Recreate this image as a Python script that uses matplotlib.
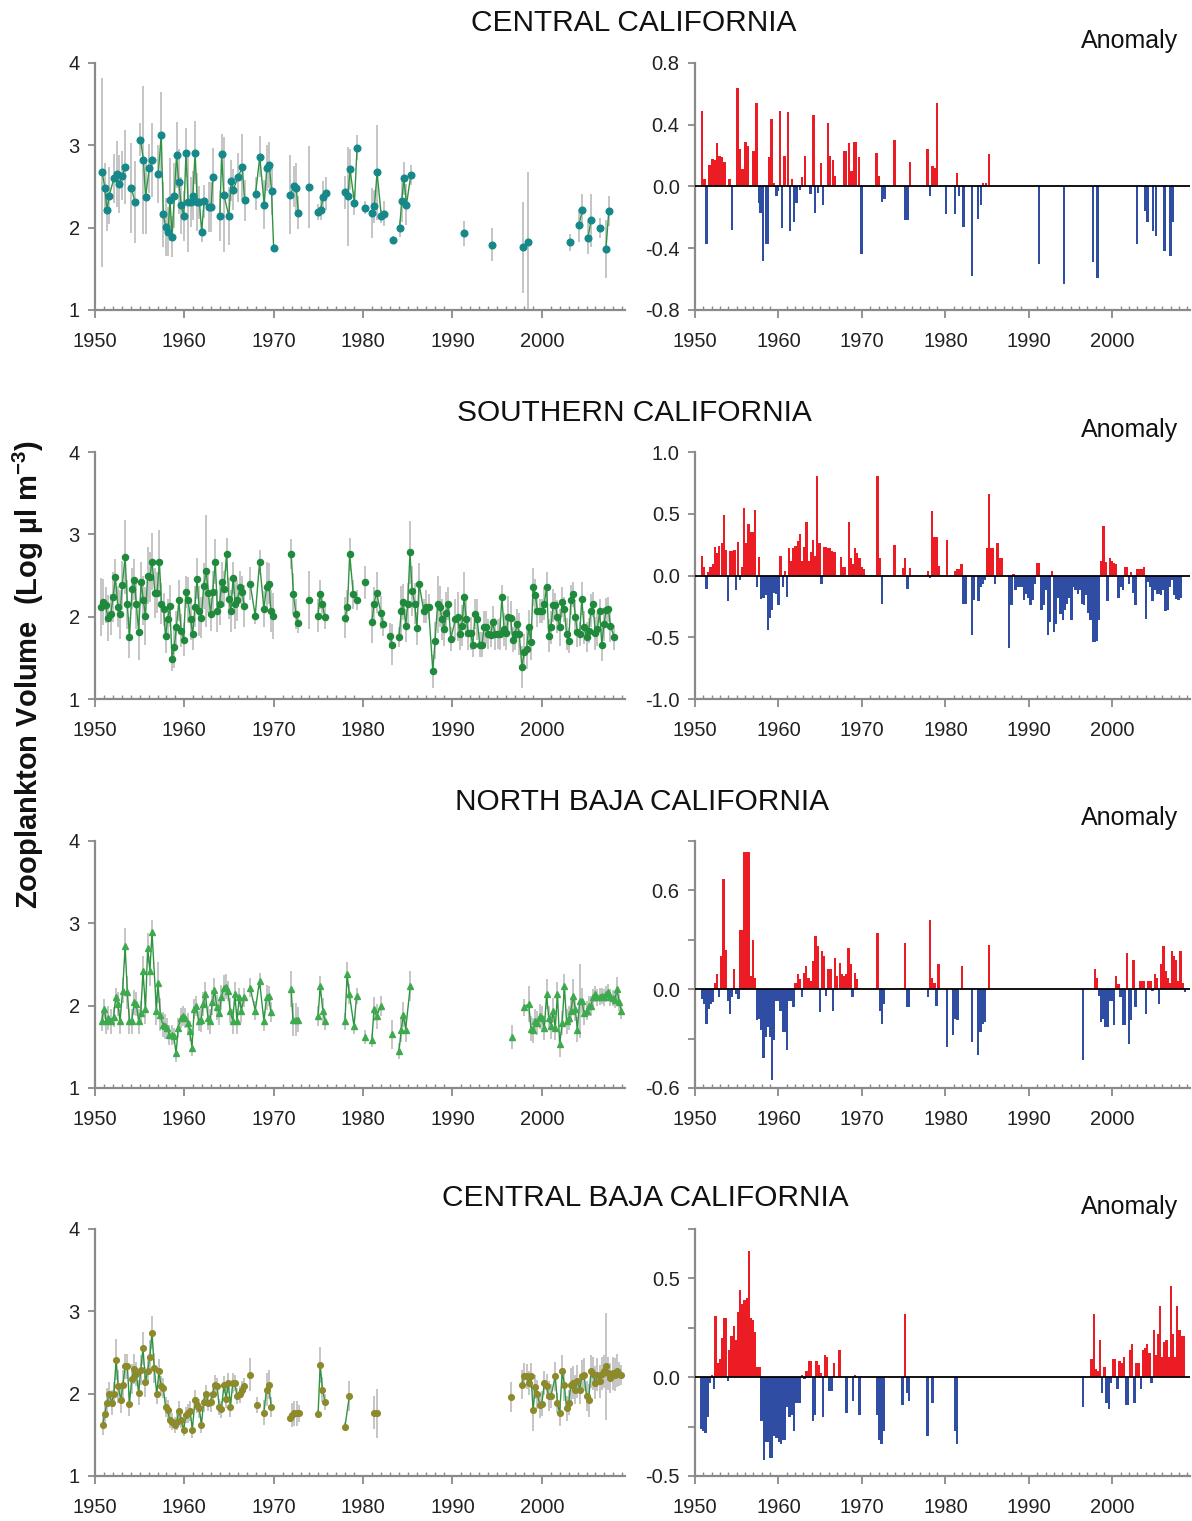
import numpy as np
import matplotlib
matplotlib.use("Agg")
import matplotlib.pyplot as plt
from matplotlib.ticker import MultipleLocator, FixedLocator

plt.rcParams['font.family'] = ['Liberation Sans', 'DejaVu Sans']
plt.rcParams['axes.unicode_minus'] = False
plt.rcParams['mathtext.default'] = 'regular'

titles = ['CENTRAL CALIFORNIA', 'SOUTHERN CALIFORNIA', 'NORTH BAJA CALIFORNIA', 'CENTRAL BAJA CALIFORNIA']

# ---- Central California ----
cc_years = [1950.81, 1951.10, 1951.34, 1951.59, 1952.12, 1952.44, 1952.69, 1953.05, 1953.38, 1954.07,
            1954.48, 1955.09, 1955.42, 1955.66, 1956.07, 1956.43, 1957.08, 1957.41, 1957.65, 1957.90,
            1958.18, 1958.39, 1958.63, 1958.88, 1959.12, 1959.36, 1959.65, 1959.93, 1960.18, 1960.42,
            1960.71, 1960.95, 1961.20, 1961.44, 1961.69, 1961.93, 1962.21, 1962.74, 1962.99, 1963.19,
            1963.97, 1964.17, 1964.41, 1964.98, 1965.23, 1965.47, 1966.00, 1966.49, 1966.73, 1967.96,
            1968.44, 1968.93, 1969.22, 1969.50, 1969.75, 1969.99, 1971.86, 1972.23, 1972.52, 1972.76,
            1973.98, 1975.00, 1975.24, 1975.53, 1975.81, 1978.01, 1978.30, 1978.54, 1979.03, 1979.32,
            1980.25, 1981.03, 1981.27, 1981.56, 1982.04, 1982.33, 1983.31, 1984.08, 1984.32, 1984.57,
            1984.85, 1985.34, 1991.33, 1994.38, 1997.88, 1998.45, 2003.18, 2004.15, 2004.52, 2005.17,
            2005.50, 2006.52, 2007.17, 2007.49]
cc_volume = [2.67, 2.48, 2.21, 2.39, 2.60, 2.65, 2.53, 2.63, 2.74, 2.48,
             2.31, 3.07, 2.82, 2.37, 2.72, 2.82, 2.65, 3.13, 2.16, 2.01,
             1.95, 2.34, 1.89, 2.39, 2.88, 2.56, 2.27, 2.14, 2.91, 2.31,
             2.31, 2.39, 2.91, 2.31, 2.31, 1.95, 2.32, 2.25, 2.25, 2.62,
             2.14, 2.89, 2.40, 2.14, 2.57, 2.46, 2.61, 2.74, 2.33, 2.41,
             2.86, 2.28, 2.72, 2.76, 2.45, 1.75, 2.40, 2.50, 2.48, 2.18,
             2.49, 2.19, 2.21, 2.37, 2.42, 2.43, 2.38, 2.71, 2.30, 2.97,
             2.24, 2.18, 2.26, 2.67, 2.14, 2.17, 1.85, 1.99, 2.32, 2.60,
             2.28, 2.64, 1.93, 1.79, 1.76, 1.83, 1.82, 2.03, 2.21, 1.88,
             2.09, 2.00, 1.74, 2.20]
cc_err = [1.15, 0.30, 0.25, 0.35, 0.30, 0.40, 0.35, 0.30, 0.45, 0.55,
          0.50, 0.20, 0.90, 0.45, 0.30, 0.45, 0.35, 0.52, 0.40, 0.35,
          0.30, 0.50, 0.25, 0.40, 0.40, 0.40, 0.35, 0.30, 0.30, 0.60,
          0.30, 0.30, 0.38, 0.35, 0.20, 0.12, 0.20, 0.30, 0.30, 0.35,
          0.30, 0.25, 0.70, 0.35, 0.25, 0.25, 0.30, 0.40, 0.25, 0.20,
          0.25, 0.30, 0.28, 0.28, 0.30, 0.05, 0.48, 0.25, 0.30, 0.20,
          0.50, 0.10, 0.12, 0.20, 0.20, 0.20, 0.60, 0.25, 0.15, 0.15,
          0.08, 0.30, 0.20, 0.58, 0.08, 0.15, 0.05, 0.10, 0.25, 0.20,
          0.25, 0.12, 0.15, 0.20, 0.55, 0.85, 0.10, 0.20, 0.20, 0.20,
          0.32, 0.12, 0.35, 0.18]
cc_anom_years = [1950.85, 1951.15, 1951.37, 1951.75, 1952.09, 1952.35, 1952.65, 1952.95, 1953.25, 1953.55,
                 1954.15, 1954.44, 1955.09, 1955.38, 1955.68, 1956.07, 1956.37, 1957.01, 1957.39, 1957.65,
                 1957.86, 1958.16, 1958.50, 1958.76, 1958.93, 1959.19, 1959.49, 1959.79, 1959.96, 1960.17,
                 1960.43, 1960.73, 1961.11, 1961.37, 1961.62, 1961.88, 1962.18, 1962.61, 1962.86, 1963.21,
                 1963.85, 1964.19, 1964.40, 1964.74, 1965.13, 1965.38, 1965.90, 1966.20, 1966.50, 1966.75,
                 1967.82, 1968.12, 1968.42, 1968.76, 1969.06, 1969.27, 1969.62, 1969.96, 1971.75, 1972.05,
                 1972.39, 1972.69, 1973.89, 1975.17, 1975.47, 1975.73, 1977.86, 1978.16, 1978.46, 1978.76,
                 1979.02, 1980.09, 1981.15, 1981.41, 1981.67, 1982.18, 1983.16, 1983.93, 1984.23, 1984.53,
                 1984.87, 1985.21, 1991.20, 1994.19, 1997.69, 1998.21, 2002.95, 2003.89, 2004.23, 2004.87,
                 2005.21, 2006.24, 2006.97, 2007.26]
cc_anom = [0.49, 0.05, -0.37, 0.14, 0.18, 0.17, 0.28, 0.20, 0.19, 0.16,
           0.05, -0.28, 0.64, 0.24, 0.11, 0.29, 0.26, 0.23, 0.54, -0.11,
           -0.17, -0.48, -0.37, -0.37, 0.19, 0.44, 0.02, -0.06, -0.03, 0.49,
           -0.27, 0.20, 0.48, -0.29, 0.05, -0.23, -0.11, -0.02, 0.06, 0.20,
           -0.05, 0.46, -0.17, -0.04, 0.15, -0.12, 0.41, 0.20, 0.17, 0.07,
           0.23, 0.23, 0.28, 0.10, 0.29, 0.29, 0.19, -0.44, 0.22, 0.07,
           -0.10, -0.08, 0.30, -0.22, -0.22, 0.16, 0.24, -0.06, 0.13, 0.12,
           0.54, -0.18, -0.18, 0.09, -0.06, -0.26, -0.58, -0.21, -0.12, 0.02,
           0.02, 0.21, -0.50, -0.63, -0.49, -0.59, -0.37, -0.16, -0.23, -0.29,
           -0.32, -0.42, -0.45, -0.23]

# ---- Southern California ----
sc_years = [1950.65, 1950.93, 1951.18, 1951.46, 1951.75, 1952.03, 1952.28, 1952.56, 1952.80, 1953.05,
            1953.37, 1953.62, 1953.86, 1954.15, 1954.39, 1954.63, 1954.88, 1955.16, 1955.41, 1955.65,
            1955.89, 1956.14, 1956.38, 1956.71, 1956.95, 1957.20, 1957.44, 1957.68, 1957.89, 1958.13,
            1958.37, 1958.62, 1958.86, 1959.11, 1959.39, 1959.63, 1959.92, 1960.16, 1960.41, 1960.69,
            1960.93, 1961.18, 1961.42, 1961.67, 1961.91, 1962.15, 1962.44, 1962.68, 1962.93, 1963.17,
            1963.46, 1963.70, 1963.94, 1964.19, 1964.43, 1964.72, 1964.96, 1965.20, 1965.45, 1965.69,
            1965.93, 1966.22, 1966.46, 1966.71, 1967.36, 1967.93, 1968.41, 1968.90, 1969.19, 1969.47,
            1969.67, 1969.96, 1971.95, 1972.20, 1972.48, 1972.72, 1973.94, 1974.96, 1975.16, 1975.45,
            1975.69, 1977.97, 1978.25, 1978.50, 1978.90, 1979.27, 1980.20, 1980.98, 1981.22, 1981.50,
            1981.99, 1982.24, 1983.01, 1983.25, 1984.02, 1984.27, 1984.51, 1984.76, 1985.00, 1985.24,
            1985.49, 1985.77, 1986.02, 1986.26, 1986.79, 1987.03, 1987.32, 1987.80, 1988.05, 1988.33,
            1988.58, 1988.82, 1989.07, 1989.31, 1989.55, 1989.80, 1990.33, 1990.57, 1990.81, 1991.06,
            1991.30, 1991.54, 1991.79, 1992.03, 1992.28, 1992.52, 1992.76, 1993.05, 1993.29, 1993.54,
            1993.78, 1994.02, 1994.27, 1994.51, 1994.76, 1995.04, 1995.28, 1995.53, 1995.77, 1996.02,
            1996.26, 1996.50, 1996.75, 1996.99, 1997.24, 1997.48, 1997.76, 1998.05, 1998.29, 1998.54,
            1998.78, 1999.02, 1999.27, 1999.51, 1999.76, 2000.00, 2000.28, 2000.53, 2000.77, 2001.02,
            2001.26, 2001.50, 2001.75, 2001.99, 2002.28, 2002.52, 2002.76, 2003.01, 2003.25, 2003.50,
            2003.74, 2003.98, 2004.23, 2004.47, 2004.72, 2005.00, 2005.24, 2005.49, 2005.73, 2005.98,
            2006.22, 2006.46, 2006.71, 2006.95, 2007.20, 2007.44, 2007.68, 2008.09]
sc_volume = [2.12, 2.18, 2.14, 1.98, 2.03, 2.24, 2.48, 2.12, 2.03, 2.38,
             2.73, 2.15, 1.75, 2.34, 2.45, 2.15, 1.82, 2.42, 2.20, 2.01,
             2.50, 2.48, 2.67, 2.29, 2.29, 2.67, 2.16, 2.09, 1.76, 1.97,
             2.13, 1.49, 1.63, 1.87, 2.20, 1.83, 1.72, 2.30, 2.20, 1.97,
             1.79, 2.12, 2.46, 2.07, 1.99, 2.37, 2.55, 2.29, 2.03, 2.30,
             2.67, 2.07, 2.15, 2.42, 2.34, 2.76, 2.22, 2.07, 2.47, 2.15,
             2.20, 2.36, 2.30, 2.13, 2.40, 2.01, 2.66, 2.09, 2.36, 2.40,
             2.07, 2.01, 2.76, 2.28, 2.03, 1.92, 2.20, 2.01, 2.27, 2.15,
             2.00, 1.99, 2.12, 2.76, 2.27, 2.20, 2.42, 1.93, 2.16, 2.29,
             2.05, 1.91, 1.77, 1.66, 1.75, 2.07, 2.18, 1.89, 2.16, 2.78,
             2.31, 2.16, 1.86, 2.40, 2.07, 2.12, 2.12, 1.34, 1.71, 2.15,
             2.12, 1.97, 1.85, 2.05, 2.16, 1.73, 1.97, 2.00, 1.79, 1.89,
             2.24, 1.97, 1.80, 1.80, 1.66, 2.03, 1.97, 1.66, 1.66, 1.87,
             1.87, 1.79, 1.78, 1.93, 1.79, 1.79, 1.79, 2.24, 1.85, 1.80,
             2.00, 1.99, 1.72, 1.79, 1.91, 1.79, 1.39, 1.57, 1.61, 1.88,
             1.69, 2.36, 2.26, 2.07, 2.07, 2.07, 2.16, 2.36, 1.77, 1.87,
             2.14, 2.14, 2.00, 1.87, 2.18, 2.09, 1.79, 1.71, 2.20, 2.27,
             2.00, 1.81, 1.79, 2.22, 1.87, 1.75, 1.83, 2.07, 2.15, 1.80,
             1.85, 2.07, 1.66, 1.91, 2.08, 2.09, 1.89, 1.75]
sc_err = [0.35, 0.28, 0.22, 0.28, 0.25, 0.30, 0.22, 0.25, 0.30, 0.30,
          0.45, 0.30, 0.25, 0.25, 0.25, 0.30, 0.35, 0.25, 0.30, 0.35,
          0.35, 0.30, 0.35, 0.30, 0.25, 0.38, 0.25, 0.20, 0.20, 0.25,
          0.25, 0.15, 0.25, 0.20, 0.25, 0.20, 0.20, 0.20, 0.28, 0.25,
          0.20, 0.25, 0.25, 0.30, 0.25, 0.28, 0.68, 0.25, 0.20, 0.25,
          0.27, 0.25, 0.25, 0.25, 0.22, 0.20, 0.25, 0.25, 0.20, 0.30,
          0.25, 0.20, 0.20, 0.25, 0.20, 0.10, 0.15, 0.22, 0.30, 0.25,
          0.25, 0.28, 0.18, 0.25, 0.18, 0.12, 0.35, 0.20, 0.18, 0.12,
          0.15, 0.25, 0.20, 0.20, 0.18, 0.12, 0.20, 0.25, 0.20, 0.25,
          0.20, 0.15, 0.15, 0.25, 0.12, 0.30, 0.22, 0.20, 0.25, 0.38,
          0.30, 0.25, 0.20, 0.25, 0.15, 0.20, 0.15, 0.20, 0.22, 0.35,
          0.25, 0.25, 0.20, 0.25, 0.20, 0.15, 0.25, 0.30, 0.20, 0.25,
          0.30, 0.22, 0.20, 0.20, 0.15, 0.18, 0.25, 0.15, 0.15, 0.20,
          0.20, 0.18, 0.15, 0.20, 0.20, 0.18, 0.20, 0.15, 0.20, 0.20,
          0.25, 0.20, 0.15, 0.20, 0.18, 0.25, 0.25, 0.22, 0.25, 0.20,
          0.22, 0.23, 0.20, 0.20, 0.15, 0.15, 0.20, 0.18, 0.20, 0.20,
          0.20, 0.15, 0.20, 0.22, 0.18, 0.15, 0.20, 0.15, 0.18, 0.15,
          0.20, 0.18, 0.15, 0.20, 0.20, 0.18, 0.15, 0.20, 0.15, 0.20,
          0.20, 0.15, 0.20, 0.20, 0.15, 0.15, 0.20, 0.15]
sc_anom_years = [1950.85, 1951.11, 1951.37, 1951.62, 1951.88, 1952.14, 1952.39, 1952.65, 1952.91, 1953.21,
                 1953.46, 1953.72, 1953.97, 1954.23, 1954.49, 1954.74, 1954.91, 1955.17, 1955.43, 1955.64,
                 1955.90, 1956.15, 1956.41, 1956.67, 1956.92, 1957.18, 1957.44, 1957.69, 1957.95, 1958.21,
                 1958.46, 1958.72, 1958.97, 1959.23, 1959.49, 1959.74, 1960.00, 1960.26, 1960.51, 1960.77,
                 1961.03, 1961.28, 1961.54, 1961.79, 1962.05, 1962.31, 1962.56, 1962.82, 1963.12, 1963.38,
                 1963.63, 1963.89, 1964.15, 1964.40, 1964.66, 1964.91, 1965.17, 1965.43, 1965.68, 1965.94,
                 1966.20, 1966.45, 1966.71, 1967.48, 1967.74, 1967.99, 1968.46, 1968.68, 1968.93, 1969.19,
                 1969.44, 1969.70, 1969.96, 1970.21, 1971.88, 1972.18, 1972.44, 1973.89, 1974.96, 1975.17,
                 1975.47, 1975.73, 1977.91, 1978.16, 1978.42, 1978.68, 1978.93, 1979.19, 1980.17, 1981.15,
                 1981.41, 1981.67, 1981.92, 1982.18, 1982.44, 1983.21, 1983.46, 1983.97, 1984.23, 1984.49,
                 1984.74, 1984.96, 1985.21, 1985.47, 1985.73, 1985.98, 1986.24, 1986.50, 1986.75, 1987.65,
                 1987.91, 1988.16, 1988.42, 1988.68, 1988.93, 1989.19, 1989.44, 1989.70, 1989.96, 1990.21,
                 1990.47, 1990.73, 1990.98, 1991.24, 1991.50, 1991.75, 1992.01, 1992.26, 1992.52, 1992.78,
                 1993.03, 1993.29, 1993.55, 1993.80, 1994.06, 1994.32, 1994.57, 1994.83, 1995.09, 1995.34,
                 1995.60, 1995.85, 1996.11, 1996.37, 1996.62, 1996.88, 1997.14, 1997.39, 1997.65, 1997.91,
                 1998.16, 1998.42, 1998.68, 1998.93, 1999.19, 1999.44, 1999.70, 1999.96, 2000.21, 2000.47,
                 2000.73, 2000.98, 2001.24, 2001.50, 2001.75, 2002.01, 2002.26, 2002.52, 2002.78, 2003.03,
                 2003.29, 2003.55, 2003.80, 2004.06, 2004.32, 2004.57, 2004.83, 2005.09, 2005.34, 2005.60,
                 2005.85, 2006.11, 2006.37, 2006.62, 2006.88, 2007.14, 2007.39, 2007.65, 2007.91, 2008.16]
sc_anom = [0.16, 0.07, -0.11, 0.03, 0.07, 0.09, 0.23, 0.18, 0.24, 0.26,
           0.49, 0.21, -0.21, 0.20, 0.20, 0.21, -0.12, 0.27, -0.04, 0.07,
           0.55, 0.26, 0.42, 0.35, 0.35, 0.53, -0.09, 0.15, -0.19, -0.18,
           -0.16, -0.44, -0.34, -0.28, -0.14, -0.15, -0.24, 0.16, -0.09, 0.04,
           -0.17, 0.22, 0.12, 0.22, 0.24, 0.28, 0.34, 0.12, 0.23, 0.43,
           0.12, 0.19, 0.29, 0.16, 0.81, 0.26, -0.07, 0.23, 0.23, 0.22,
           0.22, 0.20, 0.19, 0.15, 0.07, 0.07, 0.43, 0.14, 0.09, 0.22,
           0.18, 0.14, 0.07, 0.05, 0.81, 0.14, -0.23, 0.25, 0.06, 0.14,
           -0.11, 0.06, 0.04, -0.02, 0.52, 0.31, 0.31, 0.08, 0.29, 0.04,
           0.05, 0.05, 0.09, -0.23, -0.23, -0.48, -0.20, -0.21, -0.09, -0.07,
           -0.04, 0.22, 0.66, 0.22, 0.22, -0.07, 0.26, 0.14, 0.14, -0.59,
           -0.24, 0.01, -0.12, -0.09, -0.09, -0.09, -0.20, -0.15, -0.18, -0.24,
           -0.20, -0.07, 0.10, 0.10, -0.28, -0.24, -0.12, -0.48, -0.38, 0.04,
           -0.46, -0.39, -0.18, -0.31, -0.36, -0.28, -0.23, -0.18, -0.36, -0.09,
           -0.12, -0.15, -0.12, -0.23, -0.24, -0.16, -0.30, -0.36, -0.54, -0.54,
           -0.53, -0.36, 0.12, 0.40, 0.11, -0.21, 0.14, 0.12, 0.10, 0.09,
           -0.18, -0.09, -0.12, 0.07, 0.07, -0.07, 0.03, -0.14, -0.24, 0.05,
           0.05, 0.05, 0.07, -0.35, -0.05, -0.09, -0.21, -0.12, -0.15, -0.15,
           -0.16, -0.12, -0.29, -0.28, -0.09, -0.04, -0.16, -0.19, -0.20, -0.18]

# ---- North Baja California ----
nb_years = [1950.73, 1951.02, 1951.26, 1951.50, 1951.79, 1952.07, 1952.32, 1952.56, 1952.80, 1953.09,
            1953.37, 1953.62, 1953.86, 1954.11, 1954.39, 1954.63, 1954.88, 1955.12, 1955.37, 1955.65,
            1955.89, 1956.14, 1956.38, 1956.87, 1957.03, 1957.32, 1957.56, 1957.80, 1958.09, 1958.33,
            1958.58, 1958.82, 1959.07, 1959.31, 1959.59, 1959.84, 1960.08, 1960.37, 1960.61, 1960.85,
            1961.10, 1961.34, 1961.59, 1961.87, 1962.11, 1962.36, 1962.64, 1962.89, 1963.13, 1963.37,
            1963.62, 1963.90, 1964.15, 1964.39, 1964.63, 1964.88, 1965.12, 1965.41, 1965.65, 1965.89,
            1966.14, 1966.38, 1966.67, 1967.36, 1967.93, 1968.41, 1968.90, 1969.19, 1969.43, 1969.67,
            1971.95, 1972.15, 1972.48, 1972.72, 1974.96, 1975.20, 1975.49, 1975.73, 1977.97, 1978.21,
            1978.46, 1978.98, 1979.27, 1980.20, 1980.98, 1981.22, 1981.50, 1981.99, 1983.21, 1984.02,
            1984.27, 1984.51, 1984.76, 1985.28, 1996.63, 1998.01, 1998.54, 1998.78, 1999.02, 1999.27,
            1999.51, 1999.76, 2000.00, 2000.28, 2000.53, 2000.77, 2001.02, 2001.26, 2001.50, 2001.75,
            2001.99, 2002.28, 2002.52, 2002.76, 2003.01, 2003.25, 2003.50, 2003.74, 2003.98, 2004.23,
            2004.47, 2004.72, 2005.00, 2005.24, 2005.49, 2005.73, 2005.98, 2006.22, 2006.46, 2006.71,
            2006.95, 2007.20, 2007.44, 2007.68, 2007.93, 2008.17, 2008.41, 2008.66, 2008.90]
nb_volume = [1.81, 1.96, 1.81, 1.85, 1.81, 1.86, 2.10, 2.02, 1.81, 2.18,
             2.72, 2.16, 1.81, 1.81, 2.04, 2.02, 1.81, 1.91, 2.42, 1.96,
             2.70, 2.42, 2.89, 1.94, 2.28, 1.89, 1.77, 1.75, 1.73, 1.64,
             1.64, 1.63, 1.42, 1.73, 1.85, 1.87, 1.85, 1.79, 1.69, 1.49,
             1.96, 2.00, 1.81, 1.83, 2.02, 2.14, 1.85, 1.81, 2.04, 2.19,
             1.98, 1.91, 2.10, 2.22, 2.23, 2.18, 1.94, 1.81, 2.14, 1.81,
             2.10, 1.94, 2.10, 2.22, 1.94, 2.30, 1.81, 2.10, 2.12, 1.92,
             2.20, 1.83, 1.83, 1.83, 1.87, 2.24, 1.94, 1.81, 1.81, 2.38,
             2.14, 1.75, 2.12, 1.62, 1.58, 1.96, 1.87, 2.00, 1.65, 1.45,
             1.71, 1.89, 1.71, 2.24, 1.62, 1.98, 2.02, 1.72, 1.70, 1.81,
             1.79, 1.87, 1.85, 1.73, 2.14, 1.85, 1.75, 1.94, 1.73, 2.14,
             1.53, 1.79, 2.24, 1.81, 1.85, 1.94, 2.12, 1.96, 1.71, 2.06,
             2.06, 1.91, 1.94, 2.00, 2.00, 2.10, 2.14, 2.10, 2.11, 2.12,
             2.10, 2.14, 2.16, 2.10, 2.09, 2.07, 2.20, 2.04, 1.94]
nb_err = [0.12, 0.12, 0.15, 0.15, 0.15, 0.12, 0.12, 0.15, 0.15, 0.15,
          0.22, 0.20, 0.15, 0.15, 0.15, 0.15, 0.15, 0.15, 0.18, 0.18,
          0.18, 0.18, 0.15, 0.18, 0.25, 0.20, 0.15, 0.15, 0.12, 0.12,
          0.12, 0.10, 0.10, 0.12, 0.12, 0.12, 0.12, 0.12, 0.12, 0.10,
          0.12, 0.12, 0.12, 0.15, 0.15, 0.15, 0.15, 0.15, 0.15, 0.15,
          0.15, 0.15, 0.15, 0.15, 0.15, 0.12, 0.15, 0.15, 0.15, 0.15,
          0.12, 0.15, 0.12, 0.12, 0.12, 0.10, 0.12, 0.15, 0.12, 0.12,
          0.22, 0.20, 0.20, 0.15, 0.12, 0.12, 0.15, 0.10, 0.10, 0.15,
          0.12, 0.10, 0.10, 0.08, 0.08, 0.15, 0.15, 0.12, 0.18, 0.10,
          0.15, 0.15, 0.15, 0.18, 0.15, 0.10, 0.22, 0.15, 0.15, 0.15,
          0.15, 0.15, 0.15, 0.15, 0.18, 0.15, 0.15, 0.15, 0.15, 0.15,
          0.15, 0.15, 0.15, 0.15, 0.15, 0.15, 0.20, 0.15, 0.15, 0.45,
          0.15, 0.15, 0.12, 0.12, 0.12, 0.10, 0.10, 0.10, 0.10, 0.10,
          0.10, 0.10, 0.10, 0.10, 0.10, 0.10, 0.15, 0.10, 0.10]
nb_anom_years = [1950.85, 1951.11, 1951.37, 1951.62, 1951.88, 1952.14, 1952.39, 1952.65, 1952.91, 1953.16,
                 1953.42, 1953.68, 1953.93, 1954.19, 1954.44, 1954.70, 1954.96, 1955.21, 1955.38, 1955.64,
                 1955.90, 1956.15, 1956.41, 1956.67, 1956.92, 1957.18, 1957.44, 1957.69, 1957.95, 1958.21,
                 1958.46, 1958.72, 1958.97, 1959.23, 1959.49, 1959.74, 1960.00, 1960.26, 1960.51, 1960.77,
                 1961.03, 1961.28, 1961.54, 1961.79, 1962.05, 1962.31, 1962.56, 1962.82, 1963.08, 1963.33,
                 1963.59, 1963.85, 1964.19, 1964.44, 1964.70, 1964.96, 1965.21, 1965.47, 1965.73, 1965.98,
                 1966.24, 1966.50, 1966.75, 1967.01, 1967.35, 1967.61, 1967.86, 1968.12, 1968.38, 1968.63,
                 1968.89, 1969.15, 1969.40, 1969.66, 1971.88, 1972.14, 1972.39, 1972.65, 1974.87, 1975.17,
                 1975.43, 1975.68, 1977.91, 1978.16, 1978.42, 1978.68, 1978.93, 1979.19, 1980.17, 1980.94,
                 1981.20, 1981.45, 1981.97, 1983.16, 1983.93, 1984.19, 1984.44, 1984.74, 1985.21, 1996.45,
                 1997.91, 1998.16, 1998.42, 1998.68, 1998.93, 1999.19, 1999.44, 1999.70, 1999.96, 2000.21,
                 2000.47, 2000.73, 2000.98, 2001.24, 2001.50, 2001.75, 2002.01, 2002.26, 2002.52, 2002.78,
                 2003.03, 2003.29, 2003.55, 2003.80, 2004.06, 2004.32, 2004.57, 2004.83, 2005.09, 2005.34,
                 2005.60, 2005.85, 2006.11, 2006.37, 2006.62, 2006.88, 2007.14, 2007.39, 2007.65, 2007.91,
                 2008.16, 2008.42, 2008.68]
nb_anom = [-0.06, -0.09, -0.21, -0.12, -0.09, -0.08, 0.04, 0.09, -0.05, 0.20,
           0.67, 0.24, -0.07, -0.15, -0.05, 0.12, -0.03, -0.06, 0.36, 0.36,
           0.83, 0.83, 0.83, 0.08, 0.30, 0.07, -0.19, -0.18, -0.25, -0.42,
           -0.29, -0.23, -0.29, -0.55, -0.31, -0.07, -0.07, -0.13, -0.26, -0.26,
           -0.37, -0.07, -0.07, -0.11, 0.04, 0.09, 0.06, -0.05, 0.10, 0.14,
           0.07, 0.05, 0.17, 0.32, 0.26, -0.14, 0.23, 0.20, -0.04, 0.12,
           0.12, -0.13, 0.19, 0.08, 0.16, 0.09, 0.08, 0.09, 0.25, 0.15,
           -0.05, 0.10, 0.06, 0.01, 0.34, -0.13, -0.21, -0.09, 0.01, 0.28,
           -0.11, -0.11, -0.05, 0.42, 0.07, 0.04, -0.10, 0.15, -0.35, -0.28,
           -0.18, -0.19, 0.14, -0.32, -0.40, -0.26, -0.21, -0.20, 0.27, -0.43,
           0.12, 0.07, -0.04, -0.20, -0.18, -0.23, -0.23, -0.07, -0.07, -0.22,
           0.08, 0.03, -0.05, -0.22, -0.22, 0.22, -0.33, -0.19, 0.18, -0.11,
           0.01, 0.05, 0.05, 0.05, -0.15, 0.05, 0.05, -0.01, 0.09, 0.07,
           -0.09, 0.15, 0.26, 0.11, 0.07, 0.04, 0.23, 0.20, 0.18, 0.05,
           0.23, 0.04, -0.02]

# ---- Central Baja California ----
cb_years = [1950.85, 1951.10, 1951.34, 1951.59, 1951.87, 1952.11, 1952.36, 1952.60, 1952.89, 1953.13,
            1953.37, 1953.62, 1953.86, 1954.11, 1954.39, 1954.63, 1954.88, 1955.12, 1955.37, 1955.65,
            1955.89, 1956.14, 1956.38, 1956.63, 1956.91, 1957.15, 1957.40, 1957.64, 1957.89, 1958.13,
            1958.37, 1958.62, 1958.90, 1959.15, 1959.39, 1959.63, 1959.92, 1960.16, 1960.41, 1960.65,
            1960.89, 1961.18, 1961.42, 1961.67, 1961.91, 1962.15, 1962.40, 1962.68, 1962.93, 1963.17,
            1963.41, 1963.66, 1963.90, 1964.15, 1964.43, 1964.67, 1964.92, 1965.16, 1965.41, 1965.65,
            1965.89, 1966.18, 1966.42, 1966.67, 1967.36, 1968.17, 1968.90, 1969.19, 1969.43, 1969.72,
            1971.83, 1972.07, 1972.32, 1972.56, 1972.80, 1974.96, 1975.20, 1975.45, 1975.73, 1977.97,
            1978.46, 1981.22, 1981.50, 1996.59, 1997.76, 1998.01, 1998.29, 1998.54, 1998.78, 1999.02,
            1999.27, 1999.51, 1999.76, 2000.00, 2000.28, 2000.53, 2000.77, 2001.02, 2001.50, 2001.75,
            2001.99, 2002.28, 2002.52, 2002.76, 2003.01, 2003.25, 2003.50, 2003.74, 2003.98, 2004.23,
            2004.47, 2004.72, 2005.00, 2005.24, 2005.49, 2005.73, 2005.98, 2006.22, 2006.46, 2006.71,
            2006.95, 2007.20, 2007.44, 2007.68, 2007.93, 2008.17, 2008.41, 2008.66, 2008.90]
cb_volume = [1.62, 1.75, 1.89, 1.99, 1.89, 1.99, 2.41, 2.09, 1.92, 2.11,
             2.33, 2.33, 1.88, 2.18, 2.30, 2.24, 2.01, 2.29, 2.55, 2.14,
             2.28, 2.45, 2.74, 2.31, 1.99, 2.27, 2.09, 2.07, 1.84, 1.80,
             1.68, 1.66, 1.62, 1.66, 1.79, 1.68, 1.56, 1.74, 1.76, 1.79,
             1.56, 1.92, 1.86, 1.82, 1.62, 1.90, 1.99, 1.89, 1.90, 2.00,
             2.11, 2.09, 1.84, 1.81, 2.11, 1.94, 2.13, 1.84, 2.13, 2.13,
             1.97, 1.99, 2.05, 2.09, 2.23, 1.86, 1.77, 2.05, 2.11, 1.84,
             1.70, 1.74, 1.76, 1.76, 1.76, 1.75, 2.35, 2.05, 1.90, 1.60,
             1.97, 1.77, 1.76, 1.96, 2.11, 2.22, 2.21, 2.13, 2.22, 1.80,
             2.08, 1.99, 1.86, 1.88, 2.13, 2.09, 1.97, 1.97, 2.21, 1.89,
             1.76, 2.27, 2.11, 1.82, 1.89, 2.11, 2.13, 2.05, 2.15, 2.05,
             2.21, 2.23, 1.97, 1.92, 2.27, 2.24, 2.13, 2.23, 2.15, 2.24,
             2.27, 2.33, 2.25, 2.19, 2.25, 2.23, 2.28, 2.24, 2.23]
cb_err = [0.12, 0.15, 0.18, 0.15, 0.15, 0.15, 0.25, 0.20, 0.15, 0.18,
          0.15, 0.15, 0.15, 0.18, 0.18, 0.15, 0.15, 0.18, 0.20, 0.18,
          0.15, 0.20, 0.20, 0.18, 0.12, 0.15, 0.12, 0.12, 0.12, 0.12,
          0.10, 0.10, 0.10, 0.10, 0.12, 0.10, 0.08, 0.10, 0.12, 0.12,
          0.10, 0.12, 0.10, 0.12, 0.10, 0.12, 0.12, 0.10, 0.12, 0.12,
          0.12, 0.10, 0.10, 0.10, 0.10, 0.12, 0.12, 0.12, 0.12, 0.10,
          0.10, 0.10, 0.10, 0.10, 0.20, 0.10, 0.15, 0.20, 0.18, 0.12,
          0.05, 0.15, 0.15, 0.15, 0.10, 0.05, 0.22, 0.15, 0.10, 0.05,
          0.18, 0.20, 0.30, 0.18, 0.18, 0.15, 0.15, 0.15, 0.15, 0.25,
          0.15, 0.18, 0.15, 0.15, 0.15, 0.15, 0.18, 0.15, 0.18, 0.12,
          0.15, 0.20, 0.20, 0.15, 0.15, 0.20, 0.20, 0.18, 0.20, 0.18,
          0.20, 0.20, 0.18, 0.20, 0.20, 0.20, 0.20, 0.20, 0.20, 0.20,
          0.20, 0.65, 0.20, 0.18, 0.20, 0.20, 0.20, 0.15, 0.12]
cb_anom_years = [1950.77, 1951.03, 1951.28, 1951.54, 1951.79, 1952.05, 1952.31, 1952.48, 1952.74, 1952.99,
                 1953.25, 1953.50, 1953.76, 1953.97, 1954.15, 1954.40, 1954.66, 1954.91, 1955.17, 1955.43,
                 1955.68, 1955.94, 1956.20, 1956.45, 1956.71, 1956.97, 1957.22, 1957.48, 1957.74, 1957.99,
                 1958.25, 1958.50, 1958.76, 1959.02, 1959.27, 1959.53, 1959.79, 1960.04, 1960.30, 1960.56,
                 1960.81, 1961.07, 1961.32, 1961.58, 1961.84, 1962.09, 1962.35, 1962.61, 1962.86, 1963.12,
                 1963.38, 1963.63, 1963.89, 1964.15, 1964.40, 1964.57, 1964.83, 1965.09, 1965.34, 1965.60,
                 1965.85, 1966.11, 1966.37, 1966.62, 1967.31, 1968.16, 1968.93, 1969.19, 1969.70, 1971.84,
                 1972.09, 1972.35, 1972.61, 1974.87, 1975.13, 1975.38, 1975.64, 1977.86, 1978.46, 1981.15,
                 1981.41, 1996.45, 1997.52, 1997.78, 1998.03, 1998.29, 1998.55, 1998.80, 1999.06, 1999.32,
                 1999.57, 1999.83, 2000.09, 2000.34, 2000.60, 2000.85, 2001.11, 2001.37, 2001.62, 2001.88,
                 2002.14, 2002.39, 2002.65, 2002.91, 2003.16, 2003.42, 2003.68, 2003.93, 2004.19, 2004.44,
                 2004.70, 2004.96, 2005.21, 2005.47, 2005.73, 2005.98, 2006.24, 2006.50, 2006.75, 2007.01,
                 2007.26, 2007.52, 2007.78, 2008.03, 2008.29, 2008.55]
cb_anom = [-0.26, -0.27, -0.28, -0.20, -0.03, 0.01, -0.06, 0.31, 0.07, 0.09,
           0.20, 0.30, 0.30, -0.02, 0.14, 0.21, 0.26, 0.19, 0.33, 0.44,
           0.37, 0.39, 0.40, 0.64, 0.30, 0.29, 0.23, 0.05, 0.05, -0.22,
           -0.42, -0.33, -0.33, -0.41, -0.41, -0.30, -0.31, -0.33, -0.34, -0.32,
           -0.32, -0.15, -0.20, -0.19, -0.27, -0.13, -0.13, -0.13, 0.01, -0.01,
           0.03, 0.08, 0.08, -0.22, -0.19, 0.08, 0.06, 0.02, -0.20, 0.11,
           0.10, -0.07, -0.07, 0.07, 0.14, -0.18, -0.12, 0.01, -0.19, -0.19,
           -0.32, -0.34, -0.27, -0.14, 0.32, -0.08, -0.12, -0.30, -0.13, -0.27,
           -0.34, -0.15, 0.09, 0.32, 0.04, 0.03, 0.19, -0.08, 0.05, -0.13,
           -0.16, -0.03, 0.09, 0.09, -0.06, 0.08, 0.07, 0.10, -0.14, -0.14,
           0.14, 0.17, -0.13, 0.07, 0.07, -0.06, 0.14, 0.15, 0.17, 0.12,
           -0.03, 0.24, 0.11, 0.22, 0.36, 0.10, 0.18, 0.19, 0.10, 0.46,
           0.22, 0.10, 0.36, 0.24, 0.21, 0.21]

anom_limits = [(-0.8, 0.8), (-1.0, 1.0), (-0.6, 0.9), (-0.5, 0.75)]
anom_ticks = [[-0.8, -0.4, 0.0, 0.4, 0.8], [-1.0, -0.5, 0.0, 0.5, 1.0],
              [-0.6, -0.3, 0.0, 0.3, 0.6, 0.9], [-0.5, -0.25, 0.0, 0.25, 0.5, 0.75]]
anom_ticklabels = [['-0.8', '-0.4', '0.0', '0.4', '0.8'], ['-1.0', '-0.5', '0.0', '0.5', '1.0'],
                   ['-0.6', '', '0.0', '', '0.6', ''], ['-0.5', '', '0.0', '', '0.5', '']]

series = [(cc_years, cc_volume, cc_err, cc_anom_years, cc_anom),
          (sc_years, sc_volume, sc_err, sc_anom_years, sc_anom),
          (nb_years, nb_volume, nb_err, nb_anom_years, nb_anom),
          (cb_years, cb_volume, cb_err, cb_anom_years, cb_anom)]
markers = [('o', '#17888a', 4.8), ('o', '#1f8a3c', 4.4), ('^', '#3dab4d', 4.8), ('o', '#8d8a2c', 4.1)]
line_green = '#2f9442'
spine_gray = '#8a8a8a'
red = '#ec1c24'
blue = '#2f4ea3'


def broken(x, y, gap=0.6):
    x = np.asarray(x, float)
    y = np.asarray(y, float)
    idx = np.where(np.diff(x) > gap)[0] + 1
    return np.insert(x, idx, np.nan), np.insert(y, idx, np.nan)


def style_axis(ax):
    for s in ['top', 'right']:
        ax.spines[s].set_visible(False)
    for s in ['left', 'bottom']:
        ax.spines[s].set_color(spine_gray)
        ax.spines[s].set_linewidth(1.6)
    ax.set_xlim(1950, 2009.3)
    ax.xaxis.set_major_locator(MultipleLocator(10))
    ax.xaxis.set_minor_locator(MultipleLocator(1))
    ax.tick_params(axis='x', which='major', direction='out', length=6, width=1.3,
                   color=spine_gray, labelsize=14.5, pad=10, labelcolor='#222222')
    ax.tick_params(axis='x', which='minor', direction='in', length=3, width=1.0, color=spine_gray)
    ax.tick_params(axis='y', which='major', direction='out', length=5, width=1.3,
                   color=spine_gray, labelsize=14.5, pad=6, labelcolor='#222222')


fig = plt.figure(figsize=(11.92, 15.21), dpi=100)
bottoms = [0.7962, 0.5404, 0.2847, 0.0296]
height = 0.1624
title_pos = [(634, 23), (634, 413), (642, 802), (645, 1198)]
anom_pos = [41, 430, 818, 1207]

for i, (yrs, vol, err, ayrs, anom) in enumerate(series):
    axl = fig.add_axes([0.0797, bottoms[i], 0.4446, height])
    axl.errorbar(yrs, vol, yerr=err, fmt='none', ecolor='#bbbbbb', elinewidth=1.2, zorder=1)
    bx, by = broken(yrs, vol)
    axl.plot(bx, by, color=line_green, lw=1.0, zorder=2)
    mk, mc, ms = markers[i]
    axl.plot(yrs, vol, ls='none', marker=mk, color=mc, ms=ms, mec=mc, zorder=3)
    axl.set_ylim(1, 4)
    axl.set_yticks([1, 2, 3, 4])
    style_axis(axl)

    axr = fig.add_axes([0.583, bottoms[i], 0.4153, height])
    a = np.asarray(anom)
    colors = np.where(a >= 0, red, blue)
    axr.bar(ayrs, anom, width=0.28, color=colors, linewidth=0, zorder=2)
    axr.axhline(0, color='black', lw=1.3, zorder=3)
    axr.set_ylim(*anom_limits[i])
    axr.yaxis.set_major_locator(FixedLocator(anom_ticks[i]))
    axr.set_yticklabels(anom_ticklabels[i])
    style_axis(axr)

    tx, ty = title_pos[i]
    fig.text(tx / 1192, 1 - ty / 1521, titles[i], ha='center', va='center', fontsize=21.5, color='#111111')
    fig.text(1130 / 1192, 1 - anom_pos[i] / 1521, 'Anomaly', ha='center', va='center', fontsize=18, color='#111111')

fig.text(28 / 1192, 1 - 675 / 1521, 'Zooplankton Volume  (Log µl m$^{-3}$)', rotation=90,
         ha='center', va='center', fontsize=21, fontweight='bold', color='#111111')

fig.savefig('out.png', dpi=100)
